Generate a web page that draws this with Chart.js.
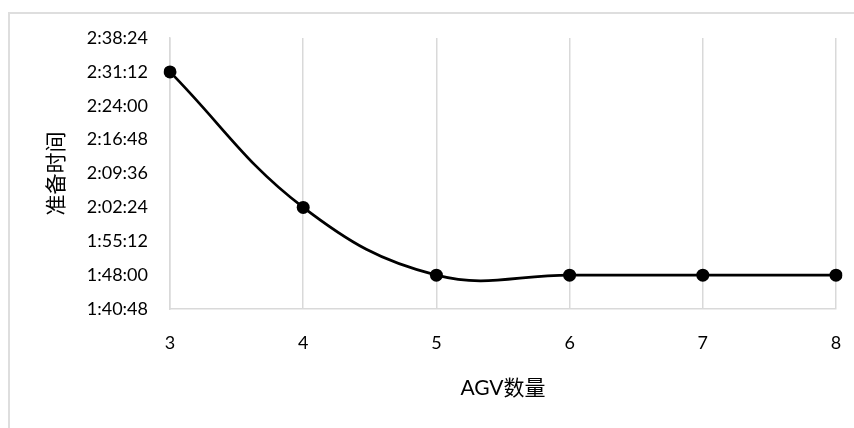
<!DOCTYPE html>
<html lang="zh">
<head>
<meta charset="UTF-8">
<script src="https://cdn.jsdelivr.net/npm/chart.js"></script>
<style>
    body { margin: 0; background: #fff; }
    .wrap { position: relative; width: 854px; height: 428px; }
    .frame { position: absolute; left: 8px; top: 12px; right: 0; bottom: 0; border-left: 2px solid #dedede; border-top: 2px solid #dedede; }
    canvas { position: absolute; left: 0; top: 0; }
</style>
</head>
<body>
<div class="wrap">
    <div class="frame"></div>
    <canvas id="chart" width="854" height="428"></canvas>
</div>
<script>
// AGV数量 → 准备时间
const agvCounts = ['3', '4', '5', '6', '7', '8'];
const prepTimes = ['2:31:12', '2:02:24', '1:48:00', '1:48:00', '1:48:00', '1:48:00'];
const yMin = '1:40:48';
const yMax = '2:38:24';
const yStep = '0:07:12';

function toSec(s) {
    const p = s.split(':').map(Number);
    return p[0] * 3600 + p[1] * 60 + p[2];
}
function toHMS(v) {
    const h = Math.floor(v / 3600);
    const m = Math.floor((v % 3600) / 60);
    const s = Math.round(v % 60);
    return h + ':' + String(m).padStart(2, '0') + ':' + String(s).padStart(2, '0');
}

const tickFont = { family: 'Lato, "Noto Sans CJK SC", sans-serif', size: 18 };
const titleFont = { family: 'Lato, "Noto Sans CJK SC", sans-serif', size: 21 };
const gridColor = '#d9d9d9';

new Chart(document.getElementById('chart'), {
    type: 'line',
    data: {
        labels: agvCounts,
        datasets: [{
            data: prepTimes.map(toSec),
            borderColor: '#000',
            backgroundColor: '#000',
            borderWidth: 2.75,
            pointRadius: 6.5,
            pointBackgroundColor: '#000',
            pointBorderWidth: 0,
            tension: 0.4,
            fill: false
        }]
    },
    options: {
        responsive: false,
        animation: false,
        layout: { padding: { top: 38, right: 18, bottom: 0, left: 0 } },
        plugins: { legend: { display: false }, tooltip: { enabled: false } },
        scales: {
            x: {
                type: 'category',
                offset: false,
                grid: { color: gridColor, lineWidth: 1.5, drawTicks: false },
                border: { display: true, color: gridColor, width: 1.5 },
                ticks: { color: '#000', font: tickFont, padding: 23 },
                title: { display: true, text: 'AGV数量', color: '#000', font: titleFont, padding: { top: 0, bottom: 27 } },
                afterFit: s => { s.height = 119; s.paddingLeft = 0; s.paddingRight = 0; }
            },
            y: {
                min: toSec(yMin),
                max: toSec(yMax),
                grid: { display: false, drawTicks: false },
                border: { display: true, color: gridColor, width: 1.5 },
                ticks: { stepSize: toSec(yStep), color: '#000', font: tickFont, padding: 22, callback: v => toHMS(v) },
                title: { display: true, text: '准备时间', color: '#000', font: titleFont, padding: { top: 44, bottom: 0 } },
                afterFit: s => { s.width = 170; }
            }
        }
    }
});
</script>
</body>
</html>
